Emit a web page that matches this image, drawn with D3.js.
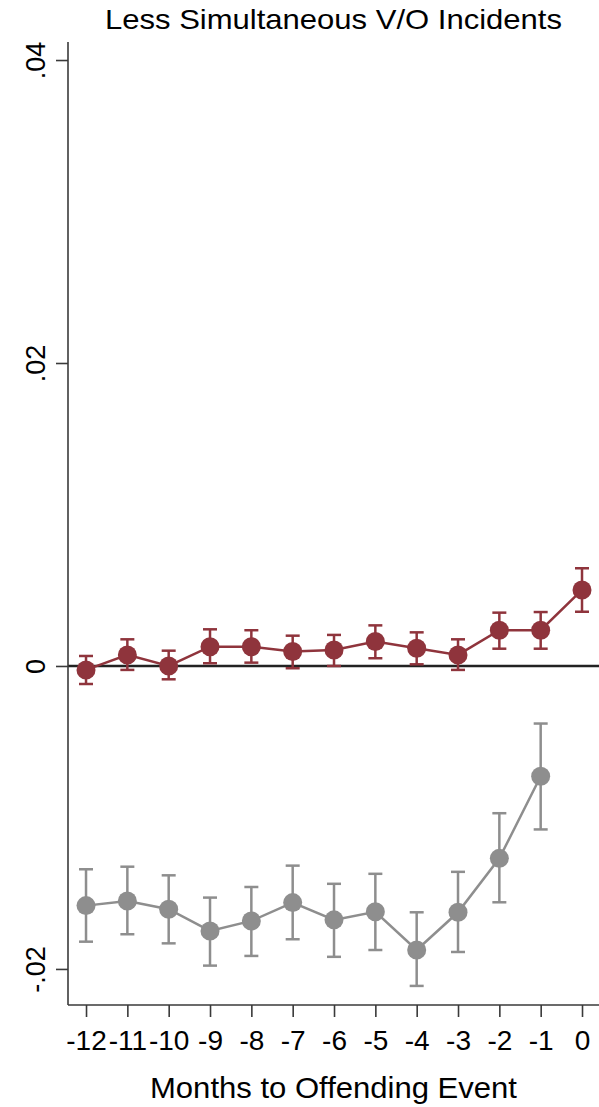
<!DOCTYPE html>
<html>
<head>
<meta charset="utf-8">
<script src="https://cdn.jsdelivr.net/npm/d3@7"></script>
<style>
  html, body { margin: 0; padding: 0; background: #fff; }
  svg { display: block; }
  text { font-family: Arial, "Liberation Sans", sans-serif; fill: #000; }
</style>
</head>
<body>
<svg id="chart" width="599" height="1107"></svg>
<script>
// Event-time months
const months = [-12, -11, -10, -9, -8, -7, -6, -5, -4, -3, -2, -1, 0];
const grayMonths = [-12, -11, -10, -9, -8, -7, -6, -5, -4, -3, -2, -1];

// Red series: point estimate with 95% CI
const redEst = [-0.00026, 0.00073, 0.00000, 0.00127, 0.00127, 0.00095, 0.00106, 0.00161, 0.00117, 0.00073, 0.00236, 0.00236, 0.00502];
const redHi  = [0.00066, 0.00176, 0.00101, 0.00242, 0.00236, 0.00200, 0.00205, 0.00268, 0.00222, 0.00176, 0.00352, 0.00356, 0.00645];
const redLo  = [-0.00119, -0.00026, -0.00088, 0.00018, 0.00022, -0.00015, 0.00000, 0.00051, 0.00011, -0.00026, 0.00114, 0.00114, 0.00358];

// Gray series: point estimate with 95% CI
const grayEst = [-0.01582, -0.01551, -0.01606, -0.01749, -0.01683, -0.01562, -0.01676, -0.01623, -0.01875, -0.01626, -0.01270, -0.00728];
const grayHi  = [-0.01342, -0.01325, -0.01382, -0.01529, -0.01459, -0.01318, -0.01438, -0.01372, -0.01626, -0.01359, -0.00972, -0.00380];
const grayLo  = [-0.01820, -0.01771, -0.01831, -0.01978, -0.01914, -0.01804, -0.01920, -0.01875, -0.02112, -0.01888, -0.01560, -0.01079];

const yTicks = [-0.02, 0, 0.02, 0.04];
const yTickLabels = ["-.02", "0", ".02", ".04"];

const titleText = "Less Simultaneous V/O Incidents";
const xTitleText = "Months to Offending Event";

const RED = "#8f343c";
const GRAY = "#8e8e8e";
const AXIS = "#3a3a3a";

const svg = d3.select("#chart");
const plot = { left: 68, right: 599, top: 42, bottom: 1005 };

const x = d3.scaleLinear().domain([-12.436, 0.411]).range([plot.left, plot.right]);
const y = d3.scaleLinear().domain([-0.02238, 0.04119]).range([plot.bottom, plot.top]);

// Title
svg.append("text")
  .attr("x", (plot.left + plot.right) / 2)
  .attr("y", 29)
  .attr("text-anchor", "middle")
  .attr("font-size", 28)
  .attr("textLength", 457)
  .attr("lengthAdjust", "spacingAndGlyphs")
  .text(titleText);

// Zero reference line
svg.append("line")
  .attr("x1", plot.left).attr("x2", plot.right)
  .attr("y1", y(0)).attr("y2", y(0))
  .attr("stroke", "#222").attr("stroke-width", 2.5);

// Y axis
const yAxis = svg.append("g")
  .attr("transform", `translate(${plot.left},0)`)
  .call(d3.axisLeft(y).tickValues(yTicks).tickSize(12).tickPadding(0)
    .tickFormat((d, i) => yTickLabels[i]));
yAxis.select(".domain")
  .attr("d", `M0,${plot.top}V${plot.bottom}`)
  .attr("stroke", AXIS).attr("stroke-width", 1.6);
yAxis.selectAll(".tick line").attr("stroke", AXIS).attr("stroke-width", 1.6);
yAxis.selectAll(".tick text")
  .attr("font-size", 27)
  .attr("fill", "#000")
  .attr("x", 0).attr("dy", 0)
  .attr("text-anchor", "middle")
  .attr("transform", `translate(-23,0) rotate(-90)`)
  .style("font-family", 'Arial, "Liberation Sans", sans-serif');

// X axis
const xAxis = svg.append("g")
  .attr("transform", `translate(0,${plot.bottom})`)
  .call(d3.axisBottom(x).tickValues(months).tickSize(12).tickPadding(0)
    .tickFormat(d3.format("d")));
xAxis.select(".domain")
  .attr("d", `M${plot.left},0H${plot.right}`)
  .attr("stroke", AXIS).attr("stroke-width", 1.6);
xAxis.selectAll(".tick line").attr("stroke", AXIS).attr("stroke-width", 1.6);
xAxis.selectAll(".tick text")
  .attr("font-size", 28)
  .attr("fill", "#000")
  .attr("y", 45).attr("dy", 0)
  .text(d => d === 0 ? "0" : "-" + Math.abs(d))
  .style("font-family", 'Arial, "Liberation Sans", sans-serif');

// X axis title
svg.append("text")
  .attr("x", 333.5)
  .attr("y", 1098)
  .attr("text-anchor", "middle")
  .attr("font-size", 30)
  .attr("textLength", 367)
  .attr("lengthAdjust", "spacingAndGlyphs")
  .text(xTitleText);

// Series drawing: connecting line, CI bars with caps, markers
function drawSeries(xs, est, lo, hi, color, r) {
  const g = svg.append("g");
  const rows = xs.map((m, i) => ({ m, est: est[i], lo: lo[i], hi: hi[i] }));
  const cap = 7;

  g.selectAll("line.ci").data(rows).join("line")
    .attr("class", "ci")
    .attr("x1", d => x(d.m)).attr("x2", d => x(d.m))
    .attr("y1", d => y(d.lo)).attr("y2", d => y(d.hi))
    .attr("stroke", color).attr("stroke-width", 2.5);
  g.selectAll("line.capHi").data(rows).join("line")
    .attr("class", "capHi")
    .attr("x1", d => x(d.m) - cap).attr("x2", d => x(d.m) + cap)
    .attr("y1", d => y(d.hi)).attr("y2", d => y(d.hi))
    .attr("stroke", color).attr("stroke-width", 2.5);
  g.selectAll("line.capLo").data(rows).join("line")
    .attr("class", "capLo")
    .attr("x1", d => x(d.m) - cap).attr("x2", d => x(d.m) + cap)
    .attr("y1", d => y(d.lo)).attr("y2", d => y(d.lo))
    .attr("stroke", color).attr("stroke-width", 2.5);

  g.append("path").datum(rows)
    .attr("fill", "none").attr("stroke", color).attr("stroke-width", 2.5)
    .attr("d", d3.line().x(d => x(d.m)).y(d => y(d.est)));

  g.selectAll("circle").data(rows).join("circle")
    .attr("cx", d => x(d.m)).attr("cy", d => y(d.est))
    .attr("r", r).attr("fill", color);
}

drawSeries(months, redEst, redLo, redHi, RED, 9.5);
drawSeries(grayMonths, grayEst, grayLo, grayHi, GRAY, 9.5);
</script>
</body>
</html>
